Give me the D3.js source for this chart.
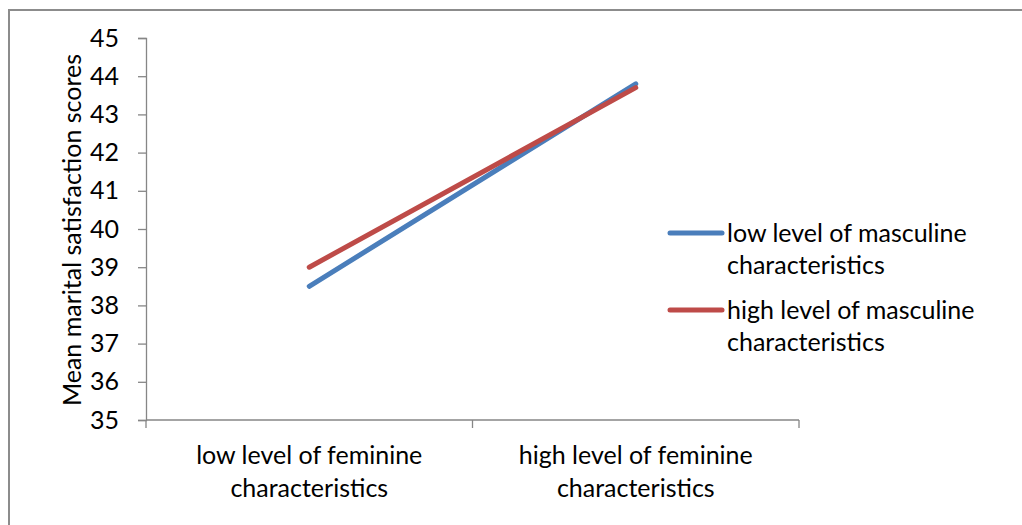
<!DOCTYPE html>
<html>
<head>
<meta charset="utf-8">
<script src="https://cdn.jsdelivr.net/npm/d3@7"></script>
<style>
  html, body { margin: 0; padding: 0; background: #fff; }
  svg { display: block; }
  text { font-family: Lato, "Open Sans", sans-serif; fill: #000; }
</style>
</head>
<body>
<svg id="chart" width="1022" height="525"></svg>
<script>
// Categories along the x axis (each label split into two lines)
const categories = ["low level of feminine characteristics", "high level of feminine characteristics"];
const categoryLines = [["low level of feminine", "characteristics"], ["high level of feminine", "characteristics"]];

// Series: mean marital satisfaction by masculine level
const seriesNames = ["low level of masculine characteristics", "high level of masculine characteristics"];
const seriesLegendLines = [["low level of masculine", "characteristics"], ["high level of masculine", "characteristics"]];
const lowMasculine = [38.5, 43.8];
const highMasculine = [39.0, 43.7];
const seriesColors = ["#4a7ebb", "#be4b48"];

const yTicks = [35, 36, 37, 38, 39, 40, 41, 42, 43, 44, 45];
const yLabel = "Mean marital satisfaction scores";

const FONT = 25;
const svg = d3.select("#chart");

// outer chart border (left and top visible)
svg.append("rect")
  .attr("x", 9).attr("y", 10)
  .attr("width", 1030).attr("height", 540)
  .attr("fill", "none").attr("stroke", "#8c8c8c").attr("stroke-width", 2);

const plot = { left: 146, right: 799, top: 38, bottom: 420 };

const x = d3.scaleBand().domain(categories).range([plot.left, plot.right]).padding(0);
const y = d3.scaleLinear().domain([35, 45]).range([plot.bottom, plot.top]);

// y axis
const yAxis = d3.axisLeft(y).tickValues(yTicks).tickSize(8).tickPadding(19).tickFormat(d3.format("d"));
const gy = svg.append("g").attr("transform", `translate(${plot.left},0)`).call(yAxis);
gy.select(".domain").attr("stroke", "#868686").attr("stroke-width", 1.3);
gy.selectAll(".tick line").attr("stroke", "#868686").attr("stroke-width", 1.3);
gy.selectAll(".tick text").attr("font-size", FONT).attr("font-family", "Lato, sans-serif").attr("fill", "#000");

// x axis with ticks at category boundaries
const gx = svg.append("g").attr("transform", `translate(0,${plot.bottom})`);
gx.append("line")
  .attr("x1", plot.left).attr("x2", plot.right)
  .attr("stroke", "#868686").attr("stroke-width", 1.3);
const boundaries = [x(categories[0]), x(categories[1]), x(categories[1]) + x.bandwidth()];
gx.selectAll("line.tick").data(boundaries).join("line")
  .attr("class", "tick")
  .attr("x1", d => d).attr("x2", d => d)
  .attr("y1", 0).attr("y2", 8)
  .attr("stroke", "#868686").attr("stroke-width", 1.3);

// category labels
categories.forEach((c, i) => {
  const t = gx.append("text")
    .attr("text-anchor", "middle")
    .attr("font-size", FONT)
    .attr("transform", `translate(${x(c) + x.bandwidth() / 2},0)`);
  categoryLines[i].forEach((ln, j) => {
    t.append("tspan").attr("x", 0).attr("y", 44 + j * 33).text(ln);
  });
});

// y axis title
svg.append("text")
  .attr("transform", `translate(81,${(plot.top + plot.bottom) / 2 + 1}) rotate(-90)`)
  .attr("text-anchor", "middle")
  .attr("font-size", FONT)
  .text(yLabel);

// lines
const seriesData = [lowMasculine, highMasculine];
const line = d3.line()
  .x((d, i) => x(categories[i]) + x.bandwidth() / 2)
  .y(d => y(d));

seriesData.forEach((vals, k) => {
  svg.append("path")
    .datum(vals)
    .attr("d", line)
    .attr("fill", "none")
    .attr("stroke", seriesColors[k])
    .attr("stroke-width", 5)
    .attr("stroke-linecap", "round");
});

// legend
const legendX = 670, legendY = [233, 310];
seriesNames.forEach((name, k) => {
  const g = svg.append("g").attr("transform", `translate(${legendX},${legendY[k]})`);
  g.append("line")
    .attr("x1", 0).attr("x2", 52)
    .attr("stroke", seriesColors[k]).attr("stroke-width", 5)
    .attr("stroke-linecap", "round");
  const t = g.append("text").attr("font-size", FONT);
  seriesLegendLines[k].forEach((ln, j) => {
    t.append("tspan").attr("x", 57).attr("y", 9 + j * 32).text(ln);
  });
});
</script>
</body>
</html>
